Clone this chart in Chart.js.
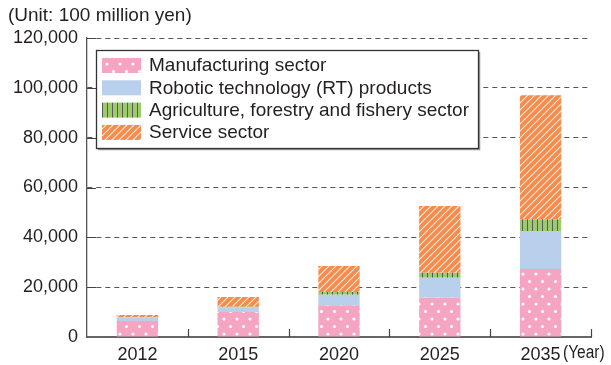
<!DOCTYPE html>
<html>
<head>
<meta charset="utf-8">
<script src="https://cdn.jsdelivr.net/npm/chart.js@4.4.0/dist/chart.umd.min.js"></script>
<style>
body{margin:0;background:#fff}
#wrap{width:611px;height:365px;position:relative}
</style>
</head>
<body>
<div id="wrap"><canvas id="canvas"></canvas></div>
<script>
// robot market forecast, unit: 100 million yen
let years=['2012','2015','2020','2025','2035']
let manufacturing=[6400,10000,12700,15800,27300]
let rt_products=[1500,1900,4250,8000,15200]
let agriculture=[100,200,1100,2000,4800]
let service=[800,4000,10400,26800,49700]
let y_ticks=[0,20000,40000,60000,80000,100000,120000]
let names=['Manufacturing sector','Robotic technology (RT) products','Agriculture, forestry and fishery sector','Service sector']

let font='"Liberation Sans", Arial, sans-serif'
let ink='#231f20'

function tile(w,h,paint){
    let c=document.createElement('canvas')
    c.width=w
    c.height=h
    let g=c.getContext('2d')
    paint(g)
    return g.createPattern(c,'repeat')
}

// pink with white dots
let dots=tile(13,15,function(g){
    g.fillStyle='#f5a4c2'
    g.fillRect(0,0,13,15)
    g.fillStyle='#fff'
    ;[[3,4],[9.5,11.5]].forEach(p=>{
        g.beginPath()
        g.arc(p[0],p[1],1.6,0,Math.PI*2)
        g.fill()
    })
})
// green with dark vertical stripes
let bars=tile(5,5,function(g){
    g.fillStyle='#9dcb6c'
    g.fillRect(0,0,5,5)
    g.fillStyle='#5a5a5a'
    g.fillRect(2,0,1,5)
})
// orange with white diagonal hatch
let hatch=tile(7,7,function(g){
    g.fillStyle='#f78b4c'
    g.fillRect(0,0,7,7)
    g.strokeStyle='rgba(255,255,255,0.85)'
    g.lineWidth=1.1
    g.beginPath()
    g.moveTo(0,7);g.lineTo(7,0)
    g.moveTo(-1,1);g.lineTo(1,-1)
    g.moveTo(6,8);g.lineTo(8,6)
    g.stroke()
})

let extras={
    id:'extras',
    afterDraw(chart){
        let ctx=chart.ctx
        let y=chart.scales.y
        let area=chart.chartArea
        ctx.save()
        // unit label
        ctx.fillStyle=ink
        ctx.font='19px '+font
        ctx.textBaseline='middle'
        ctx.textAlign='left'
        ctx.fillText('(Unit: 100 million yen)',8,16)
        // inner ticks
        ctx.strokeStyle='#444'
        ctx.lineWidth=1.2
        ctx.beginPath()
        y_ticks.forEach(v=>{
            if(v==0)return
            let py=Math.round(y.getPixelForValue(v))+0.5
            ctx.moveTo(area.left,py)
            ctx.lineTo(area.left+9,py)
        })
        let step=(area.right-area.left)/years.length
        for(let i=1;i<=years.length;i++){
            let px=Math.round(area.left+step*i)+0.5
            ctx.moveTo(px,area.bottom)
            ctx.lineTo(px,area.bottom-8)
        }
        ctx.stroke()
        // year unit, condensed
        ctx.save()
        ctx.translate(563,353)
        ctx.scale(0.86,1)
        ctx.font='18px '+font
        ctx.fillText('(Year)',0,0)
        ctx.restore()
        // legend box
        let bx=96,by=50,bw=382,bh=98
        ctx.fillStyle='#fff'
        ctx.fillRect(bx,by,bw,bh)
        ctx.strokeStyle='#999'
        ctx.lineWidth=1.5
        ctx.beginPath()
        ctx.moveTo(bx+bw+1.5,by+2)
        ctx.lineTo(bx+bw+1.5,by+bh+1.5)
        ctx.lineTo(bx+2,by+bh+1.5)
        ctx.stroke()
        ctx.strokeStyle='#333'
        ctx.lineWidth=1.3
        ctx.strokeRect(bx+0.5,by+0.5,bw,bh)
        ctx.font='19px '+font
        chart.data.datasets.forEach((d,i)=>{
            let ty=58+i*22.3
            ctx.fillStyle=d.backgroundColor
            ctx.fillRect(102,ty,39,15)
            ctx.fillStyle=ink
            ctx.fillText(d.label,149,ty+8)
        })
        ctx.restore()
    }
}

new Chart(document.getElementById('canvas'),{
    type:'bar',
    data:{
        labels:years,
        datasets:[
            {label:names[0],data:manufacturing,backgroundColor:dots},
            {label:names[1],data:rt_products,backgroundColor:'#b9d0ec'},
            {label:names[2],data:agriculture,backgroundColor:bars},
            {label:names[3],data:service,backgroundColor:hatch}
        ]
    },
    options:{
        responsive:true,
        maintainAspectRatio:false,
        animation:false,
        barPercentage:0.41,
        categoryPercentage:1,
        layout:{padding:{top:38,right:20,left:0,bottom:0}},
        plugins:{
            legend:{display:false},
            tooltip:{enabled:false}
        },
        scales:{
            x:{
                stacked:true,
                grid:{display:false,drawTicks:false},
                border:{display:true,color:'#666',width:2},
                ticks:{color:ink,font:{family:font,size:18},padding:7},
                afterFit(s){s.height=28}
            },
            y:{
                stacked:true,
                min:0,
                max:120000,
                afterBuildTicks(s){s.ticks=y_ticks.map(v=>({value:v}))},
                grid:{
                    color:c=>c.tick&&c.tick.value==0?'rgba(0,0,0,0)':'#555',
                    lineWidth:1,
                    drawTicks:false
                },
                border:{display:true,color:'#555',width:1.3,dash:[5,4]},
                ticks:{
                    color:ink,
                    font:{family:font,size:18},
                    padding:9,
                    callback:v=>v.toLocaleString('en-US')
                },
                afterFit(s){s.width=87}
            }
        }
    },
    plugins:[extras]
})
</script>
</body>
</html>
